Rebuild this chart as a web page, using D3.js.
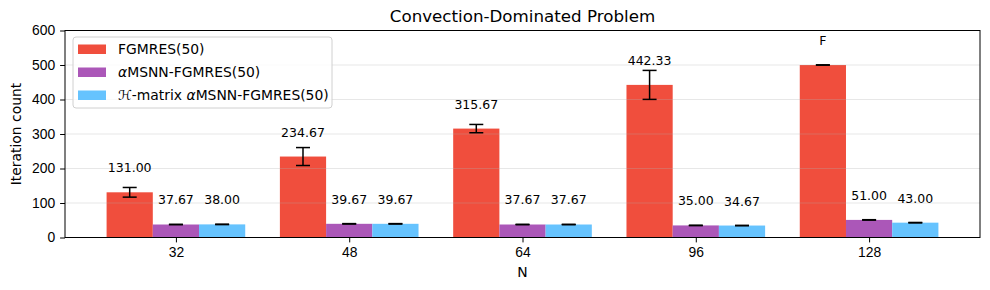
<!DOCTYPE html>
<html>
<head>
<meta charset="utf-8">
<script src="https://cdn.jsdelivr.net/npm/d3@7"></script>
<style>
  body { margin: 0; background: #fff; }
  svg { font-family: "DejaVu Sans", sans-serif; }
  .tick text { font-size: 13.9px; fill: #000; }
  .tick line { stroke: #000; stroke-width: 1; }
  .domain { display: none; }
</style>
</head>
<body>
<div id="svg-container"></div>
<script>
// data
const Ns = ["32", "48", "64", "96", "128"];
const series = ["fg", "ms", "hm"];
const fgVals = [131.00, 234.67, 315.67, 442.33, 500];
const fgErr = [14, 26, 12, 42, 0.5];
const msVals = [37.67, 39.67, 37.67, 35.00, 51.00];
const msErr = [0.6, 0.6, 0.6, 0.6, 0.6];
const hmVals = [38.00, 39.67, 37.67, 34.67, 43.00];
const hmErr = [0.6, 0.6, 0.6, 0.6, 0.6];
const fgLabels = ["131.00", "234.67", "315.67", "442.33", "F"];
const msLabels = ["37.67", "39.67", "37.67", "35.00", "51.00"];
const hmLabels = ["38.00", "39.67", "37.67", "34.67", "43.00"];
const yTicks = [0, 100, 200, 300, 400, 500, 600];

const colors = { fg: "#f04e3d", ms: "#ab57b8", hm: "#66c3fe" };
const valsBy = { fg: fgVals, ms: msVals, hm: hmVals };
const errBy = { fg: fgErr, ms: msErr, hm: hmErr };
const labBy = { fg: fgLabels, ms: msLabels, hm: hmLabels };

const width = 990, height = 290;
const margin = { top: 30.5, right: 10, bottom: 52.5, left: 65 };

const svg = d3.select("#svg-container").append("svg")
  .attr("width", width).attr("height", height);

// scales
const x = d3.scaleLinear().domain([-0.64, 4.64]).range([margin.left, width - margin.right]);
const xSub = d3.scaleBand().domain(series).range([-0.4, 0.4]);
const y = d3.scaleLinear().domain([0, 600]).range([height - margin.bottom, margin.top]);

// table
const rows = [];
Ns.forEach((n, i) => {
  series.forEach(s => {
    rows.push({ i, s, v: valsBy[s][i], e: errBy[s][i], lab: labBy[s][i] });
  });
});

// bars
svg.append("g").selectAll("rect").data(rows).enter().append("rect")
  .attr("x", d => x(d.i + xSub(d.s)))
  .attr("width", d => x(xSub.bandwidth()) - x(0))
  .attr("y", d => y(d.v))
  .attr("height", d => y(0) - y(d.v))
  .attr("fill", d => colors[d.s]);

// grid (drawn over bars, faint)
svg.append("g").selectAll("line").data(yTicks.slice(1)).enter().append("line")
  .attr("x1", margin.left).attr("x2", width - margin.right)
  .attr("y1", d => y(d)).attr("y2", d => y(d))
  .attr("stroke", "#b0b0b0").attr("stroke-opacity", 0.3).attr("stroke-width", 1);

// error bars
const eg = svg.append("g").attr("stroke", "#000").attr("stroke-width", 1.5);
const cx = d => x(d.i + xSub(d.s) + xSub.bandwidth() / 2);
eg.selectAll(".ev").data(rows).enter().append("line")
  .attr("x1", cx).attr("x2", cx)
  .attr("y1", d => y(d.v - d.e)).attr("y2", d => y(d.v + d.e));
eg.selectAll(".ct").data(rows).enter().append("line")
  .attr("x1", d => cx(d) - 7).attr("x2", d => cx(d) + 7)
  .attr("y1", d => y(d.v + d.e)).attr("y2", d => y(d.v + d.e));
eg.selectAll(".cb").data(rows).enter().append("line")
  .attr("x1", d => cx(d) - 7).attr("x2", d => cx(d) + 7)
  .attr("y1", d => y(d.v - d.e)).attr("y2", d => y(d.v - d.e));

// value labels
svg.append("g").selectAll("text").data(rows).enter().append("text")
  .attr("x", cx)
  .attr("y", d => y(d.v + 58))
  .attr("text-anchor", "middle")
  .attr("font-size", "12.5px")
  .attr("fill", "#000")
  .text(d => d.lab);

// axes
const xAxis = d3.axisBottom(x).tickValues([0, 1, 2, 3, 4])
  .tickFormat(i => Ns[i]).tickSize(4.9).tickPadding(4.9);
const yAxis = d3.axisLeft(y).tickValues(yTicks).tickSize(4.9).tickPadding(4.9);

svg.append("g").attr("class", "x-axis")
  .attr("transform", `translate(0,${height - margin.bottom})`).call(xAxis);
svg.append("g").attr("class", "y-axis")
  .attr("transform", `translate(${margin.left},0)`).call(yAxis);

// frame
svg.append("rect")
  .attr("x", margin.left).attr("y", margin.top)
  .attr("width", width - margin.right - margin.left)
  .attr("height", height - margin.bottom - margin.top)
  .attr("fill", "none").attr("stroke", "#000").attr("stroke-width", 1);

// titles
svg.append("text").attr("x", (margin.left + width - margin.right) / 2).attr("y", 22)
  .attr("text-anchor", "middle").attr("font-size", "16.7px").text("Convection-Dominated Problem");
svg.append("text").attr("x", (margin.left + width - margin.right) / 2).attr("y", 277)
  .attr("text-anchor", "middle").attr("font-size", "13.9px").text("N");
svg.append("text").attr("transform", `translate(21,${(margin.top + height - margin.bottom) / 2}) rotate(-90)`)
  .attr("text-anchor", "middle").attr("font-size", "13.9px").text("Iteration count");

// legend
const lg = svg.append("g").attr("transform", "translate(73,37)");
lg.append("rect").attr("width", 259).attr("height", 71).attr("rx", 3)
  .attr("fill", "#fff").attr("fill-opacity", 0.8).attr("stroke", "#d0d0d0");
const legendItems = [
  { s: "fg", parts: [["FGMRES(50)", ""]] },
  { s: "ms", parts: [["α", "italic"], ["MSNN-FGMRES(50)", ""]] },
  { s: "hm", parts: [["ℋ", "italic"], ["-matrix ", ""], ["α", "italic"], ["MSNN-FGMRES(50)", ""]] }
];
legendItems.forEach((it, k) => {
  const cy = 12 + k * 23;
  lg.append("rect").attr("x", 5).attr("y", cy - 4.5).attr("width", 28).attr("height", 9.5)
    .attr("fill", colors[it.s]);
  const t = lg.append("text").attr("x", 45).attr("y", cy + 5).attr("font-size", "13.9px");
  it.parts.forEach(p => {
    const ts = t.append("tspan").text(p[0]);
    if (p[1]) ts.attr("font-style", "italic");
  });
});
</script>
</body>
</html>
